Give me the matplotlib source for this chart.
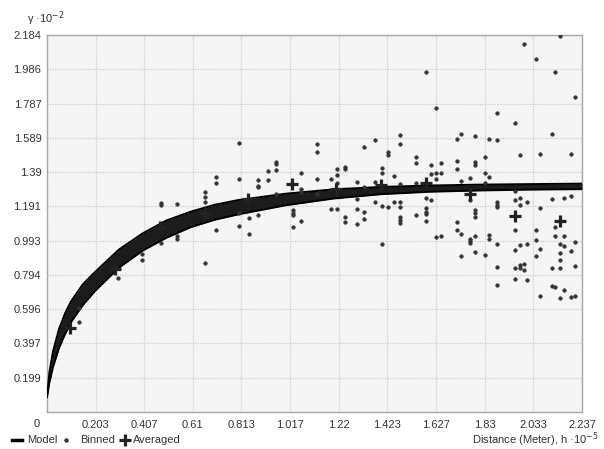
import matplotlib
matplotlib.use("Agg")
import matplotlib.pyplot as plt
from matplotlib.lines import Line2D
import numpy as np

# ---- data ----
x_ticks = [0, 0.203, 0.407, 0.61, 0.813, 1.017, 1.22, 1.423, 1.627, 1.83, 2.033, 2.237]
x_tick_labels = ["0", "0.203", "0.407", "0.61", "0.813", "1.017", "1.22", "1.423",
                 "1.627", "1.83", "2.033", "2.237"]
y_ticks = [0, 0.199, 0.397, 0.596, 0.794, 0.993, 1.191, 1.39, 1.589, 1.787, 1.986, 2.184]
y_tick_labels = ["", "0.199", "0.397", "0.596", "0.794", "0.993", "1.191", "1.39",
                 "1.589", "1.787", "1.986", "2.184"]

# model band (envelope of the fitted model curves)
model_h = [0, 0.01, 0.025, 0.05, 0.075, 0.1, 0.15, 0.2, 0.3, 0.4, 0.5, 0.6, 0.7,
           0.8, 1.0, 1.2, 1.4, 1.6, 1.8, 2.0, 2.237]
model_upper = [0.087, 0.23, 0.35, 0.48, 0.57, 0.64, 0.74, 0.81, 0.94, 1.035, 1.11, 1.16,
               1.20, 1.228, 1.265, 1.29, 1.304, 1.312, 1.317, 1.320, 1.323]
model_lower = [0.087, 0.17, 0.26, 0.37, 0.45, 0.52, 0.62, 0.70, 0.835, 0.935, 1.01, 1.07,
               1.113, 1.145, 1.198, 1.237, 1.262, 1.276, 1.283, 1.288, 1.291]

binned_x = [0.132, 0.132, 0.295, 0.397, 0.397, 0.477, 0.477, 0.477, 0.542, 0.542, 0.542,
            0.660, 0.660, 0.660, 0.660, 0.707, 0.707, 0.707, 0.802, 0.802, 0.802, 0.802,
            0.843, 0.843, 0.883, 0.883, 0.883, 0.883, 0.922, 0.922, 0.959, 0.959, 0.959,
            0.959, 1.029, 1.029, 1.029, 1.029, 1.060, 1.060, 1.060, 1.060, 1.127, 1.127,
            1.127, 1.127, 1.186, 1.186, 1.214, 1.214, 1.214, 1.214, 1.245, 1.245, 1.245,
            1.245, 1.296, 1.296, 1.296, 1.296, 1.324, 1.324, 1.324, 1.324, 1.373, 1.373,
            1.373, 1.401, 1.401, 1.401, 1.401, 1.426, 1.426, 1.426, 1.449, 1.449, 1.475,
            1.475, 1.475, 1.475, 1.475, 1.475, 1.475, 1.475, 1.544, 1.544, 1.544, 1.544,
            1.583, 1.583, 1.583, 1.583, 1.583, 1.583, 1.607, 1.607, 1.607, 1.628, 1.628,
            1.628, 1.628, 1.649, 1.649, 1.649, 1.713, 1.713, 1.713, 1.713, 1.713, 1.733,
            1.733, 1.733, 1.733, 1.770, 1.770, 1.770, 1.770, 1.770, 1.791, 1.791, 1.791,
            1.791, 1.791, 1.791, 1.791, 1.791, 1.832, 1.832, 1.832, 1.832, 1.848, 1.848,
            1.848, 1.848, 1.883, 1.883, 1.883, 1.883, 1.883, 1.883, 1.883, 1.883, 1.956,
            1.956, 1.956, 1.956, 1.956, 1.956, 1.956, 1.977, 1.977, 1.977, 1.977, 1.977,
            1.977, 1.995, 1.995, 1.995, 2.009, 2.009, 2.009, 2.046, 2.046, 2.046, 2.046,
            2.062, 2.062, 2.062, 2.062, 2.111, 2.111, 2.111, 2.111, 2.126, 2.126, 2.126,
            2.126, 2.143, 2.143, 2.143, 2.143, 2.143, 2.143, 2.160, 2.160, 2.160, 2.160,
            2.192, 2.192, 2.192, 2.192, 2.208, 2.208, 2.208, 2.208]
binned_y = [0.600, 0.523, 0.774, 0.915, 0.880, 1.212, 1.200, 0.980, 1.206, 1.021, 1.000,
            1.276, 1.243, 1.218, 0.864, 1.359, 1.326, 1.056, 1.556, 1.351, 1.151, 1.077,
            1.123, 1.032, 1.343, 1.309, 1.301, 1.139, 1.397, 1.343, 1.449, 1.436, 1.401,
            1.262, 1.170, 1.154, 1.141, 1.073, 1.386, 1.290, 1.276, 1.108, 1.550, 1.504,
            1.347, 1.262, 1.347, 1.175, 1.407, 1.371, 1.328, 1.175, 1.420, 1.407, 1.131,
            1.100, 1.332, 1.232, 1.175, 1.089, 1.534, 1.301, 1.156, 1.118, 1.577, 1.332,
            1.218, 1.415, 1.386, 1.195, 0.973, 1.504, 1.488, 1.185, 1.365, 1.214, 1.606,
            1.554, 1.320, 1.216, 1.189, 1.127, 1.112, 1.096, 1.478, 1.440, 1.324, 1.141,
            1.970, 1.241, 1.179, 1.160, 1.145, 1.106, 1.432, 1.376, 1.226, 1.762, 1.382,
            1.347, 1.015, 1.444, 1.382, 1.019, 1.579, 1.455, 1.405, 1.098, 1.056, 1.611,
            1.338, 1.032, 0.905, 1.353, 1.228, 1.002, 0.990, 0.977, 1.600, 1.449, 1.432,
            1.170, 1.151, 1.127, 1.021, 0.925, 1.477, 1.382, 1.328, 0.909, 1.579, 1.362,
            1.027, 1.002, 1.730, 1.573, 1.216, 1.199, 1.185, 0.971, 0.841, 0.735, 1.673,
            1.281, 1.226, 1.054, 0.938, 0.832, 0.768, 1.488, 1.237, 1.199, 0.967, 0.851,
            0.832, 0.855, 0.824, 2.129, 1.214, 0.971, 0.764, 2.044, 1.054, 0.996, 0.905,
            1.494, 1.179, 0.944, 0.673, 1.611, 1.235, 0.832, 0.731, 1.970, 1.073, 1.021,
            0.722, 2.179, 0.971, 0.921, 0.882, 0.832, 0.662, 1.241, 1.021, 0.961, 0.706,
            1.494, 1.251, 0.932, 0.668, 1.826, 0.983, 0.847, 0.673]

averaged_x = [0.095, 0.283, 0.472, 0.660, 0.841, 1.026, 1.210, 1.398, 1.583, 1.770,
              1.956, 2.143]
averaged_y = [0.488, 0.828, 1.07, 1.15, 1.232, 1.320, 1.290, 1.314, 1.326, 1.262,
              1.135, 1.106]

# ---- figure ----
plt.rcParams['font.family'] = ['Liberation Sans', 'DejaVu Sans']
W, H = 604, 449
fig = plt.figure(figsize=(W / 100, H / 100), dpi=100)
fig.patch.set_facecolor('white')
ax = fig.add_axes([47 / W, (H - 412) / H, 535 / W, 377 / H])
ax.set_facecolor('#f5f5f5')

ax.set_xlim(0, 2.237)
ax.set_ylim(0, 2.184)
ax.set_xticks(x_ticks)
ax.set_xticklabels([""] + x_tick_labels[1:])
ax.set_yticks(y_ticks)
ax.set_yticklabels(y_tick_labels)
ax.tick_params(length=0, labelsize=8, colors='#333333', pad=4)
ax.tick_params(axis='x', pad=6)
for s in ax.spines.values():
    s.set_color('#a8a8a8')
    s.set_linewidth(1.0)
ax.grid(True, color='#cdcdcd', linestyle=(0, (1, 1)), linewidth=0.9)
ax.set_axisbelow(True)

# model band
ax.fill_between(model_h, model_lower, model_upper, color='#1c1c1c', lw=0, zorder=3)
ax.plot(model_h, model_upper, color='black', lw=1.4, zorder=3)
ax.plot(model_h, model_lower, color='black', lw=1.4, zorder=3)

ax.plot(binned_x, binned_y, linestyle='none', marker='o', ms=2.5,
        color='#333333', mec='#333333', mew=0.5, zorder=4)
ax.plot(averaged_x, averaged_y, linestyle='none', marker='+', ms=9, mew=2.3,
        color='#222222', zorder=5)

# origin label
fig.text(37 / W, 1 - 424 / H, "0", ha='center', va='center', fontsize=8, color='#333333')

# axis titles
fig.text(27 / W, 1 - 19 / H, r"γ ·10$^{-2}$", ha='left', va='center', fontsize=8,
         color='#333333')
fig.text(599 / W, 1 - 440 / H, r"Distance (Meter), h ·10$^{-5}$", ha='right',
         va='center', fontsize=8, color='#333333')

# legend
ly = 1 - 440 / H
fig.add_artist(Line2D([12 / W, 22 / W], [ly, ly], color='black', lw=2.5,
                      transform=fig.transFigure))
fig.text(27 / W, ly, "Model", ha='left', va='center', fontsize=8, color='#333333')
fig.add_artist(Line2D([66 / W], [ly], marker='o', ms=2.2, color='#333333',
                      linestyle='none', transform=fig.transFigure))
fig.text(80 / W, ly, "Binned", ha='left', va='center', fontsize=8, color='#333333')
fig.add_artist(Line2D([125 / W], [ly], marker='+', ms=8, mew=2.3, color='#222222',
                      linestyle='none', transform=fig.transFigure))
fig.text(133 / W, ly, "Averaged", ha='left', va='center', fontsize=8, color='#333333')

fig.savefig("out.png", dpi=100, facecolor='white')
